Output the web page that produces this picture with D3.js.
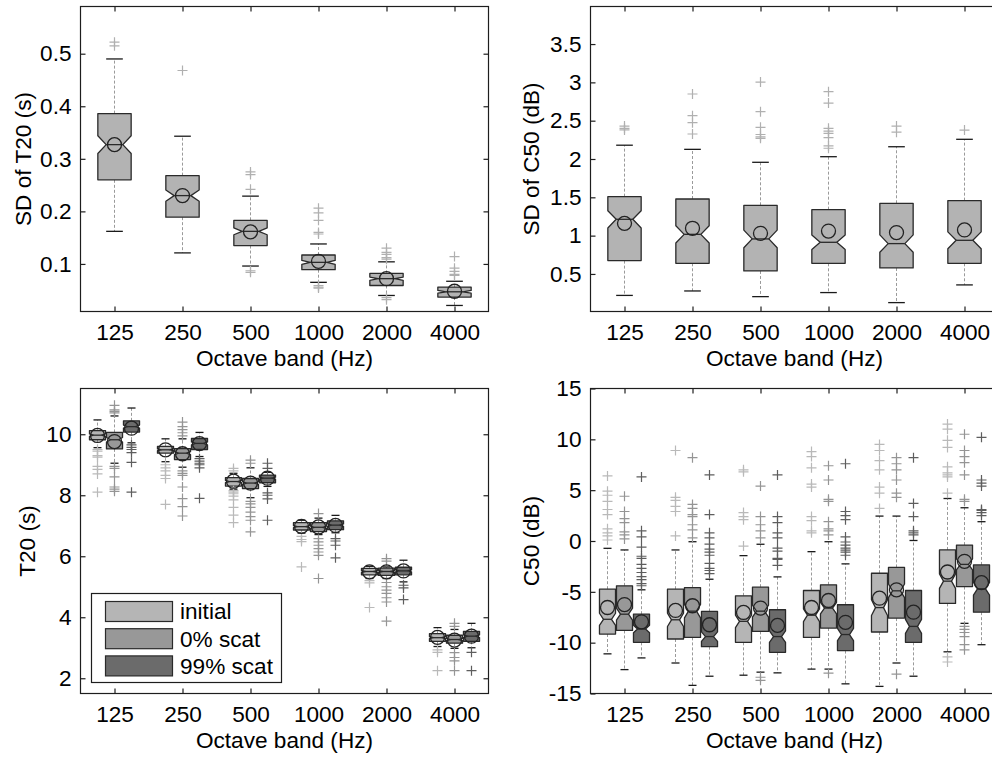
<!DOCTYPE html>
<html><head><meta charset="utf-8">
<script src="https://cdn.jsdelivr.net/npm/d3@7"></script>
<style>
body{margin:0;background:#fff}
svg{display:block}
text{font-family:Arial,"Liberation Sans",sans-serif}
</style>
</head><body>
<svg id="c" width="992" height="758"></svg>
<script>
// ---------- DATA ----------
const bands = ["125", "250", "500", "1000", "2000", "4000"];
const legendLabels = ["initial", "0% scat", "99% scat"];
const sdT20Ticks = [0.1, 0.2, 0.3, 0.4, 0.5];
const sdC50Ticks = [0.5, 1, 1.5, 2, 2.5, 3, 3.5];
const t20Ticks = [2, 4, 6, 8, 10];
const c50Ticks = [-15, -10, -5, 0, 5, 10, 15];
const nSamples = 136; // used for notch width (median ± 1.57·IQR/√n)

// box stats: [lowerWhisker, q1, median, q3, upperWhisker, mean]
const sdT20Stats = [
  [0.162, 0.260, 0.327, 0.386, 0.490, 0.327],
  [0.121, 0.189, 0.230, 0.268, 0.343, 0.230],
  [0.096, 0.135, 0.162, 0.183, 0.229, 0.161],
  [0.065, 0.089, 0.103, 0.117, 0.138, 0.105],
  [0.040, 0.059, 0.072, 0.082, 0.104, 0.072],
  [0.021, 0.037, 0.047, 0.056, 0.067, 0.048]
];
const sdT20Out = [
  [0.522, 0.515],
  [0.468],
  [0.275, 0.270, 0.242, 0.087, 0.084],
  [0.206, 0.197, 0.183, 0.160, 0.157, 0.059, 0.056, 0.054],
  [0.130, 0.122, 0.118, 0.112, 0.109, 0.036, 0.032],
  [0.114, 0.092, 0.086, 0.080, 0.078]
];

const sdC50Stats = [
  [0.220, 0.674, 1.213, 1.509, 2.180, 1.160],
  [0.278, 0.639, 1.017, 1.478, 2.126, 1.096],
  [0.204, 0.539, 0.957, 1.396, 1.957, 1.030],
  [0.257, 0.639, 0.913, 1.339, 2.030, 1.060],
  [0.126, 0.578, 0.896, 1.422, 2.160, 1.040],
  [0.357, 0.639, 0.939, 1.457, 2.257, 1.074]
];
const sdC50Out = [
  [2.43, 2.40, 2.38],
  [2.848, 2.565, 2.474, 2.326],
  [3.004, 2.617, 2.413, 2.32, 2.29, 2.27],
  [2.878, 2.73, 2.40, 2.365, 2.335, 2.278, 2.17, 2.14],
  [2.43, 2.35],
  [2.378]
];

const t20InitialStats = [
  [9.56, 9.82, 9.97, 10.12, 10.47, 9.96],
  [9.10, 9.38, 9.49, 9.60, 9.85, 9.49],
  [8.20, 8.30, 8.45, 8.58, 8.72, 8.46],
  [6.76, 6.86, 6.97, 7.10, 7.18, 6.98],
  [5.27, 5.39, 5.50, 5.60, 5.67, 5.49],
  [3.04, 3.21, 3.33, 3.46, 3.66, 3.34]
];
const t20InitialOut = [
  [9.5, 9.45, 9.3, 9.25, 8.95, 8.85, 8.7, 8.1],
  [9.0, 8.9, 8.8, 8.65, 8.55, 7.7],
  [8.88, 8.8, 8.15, 8.1, 8.05, 7.97, 7.85, 7.6, 7.35, 7.1],
  [6.65, 6.55, 6.48, 5.65],
  [5.2, 5.13, 4.32],
  [2.93, 2.85, 2.25]
];
const t20Scat0Stats = [
  [9.05, 9.52, 9.82, 10.06, 10.60, 9.76],
  [8.92, 9.17, 9.38, 9.53, 9.85, 9.36],
  [7.92, 8.22, 8.40, 8.55, 8.90, 8.40],
  [6.71, 6.81, 6.95, 7.10, 7.25, 6.96],
  [5.27, 5.37, 5.50, 5.61, 5.65, 5.49],
  [2.98, 3.15, 3.27, 3.41, 3.60, 3.25]
];
const t20Scat0Out = [
  [10.95, 10.8, 10.75, 10.7, 8.95, 8.88, 8.6, 8.27, 8.2, 8.13],
  [10.4, 10.25, 10.15, 10.05, 9.95, 8.8, 8.72, 8.65, 8.27, 7.89, 7.63, 7.32],
  [9.15, 9.05, 7.8, 7.72, 7.6, 7.45, 7.3, 7.18, 6.8],
  [7.4, 6.58, 6.47, 6.36, 6.25, 6.14, 6.03, 5.27],
  [5.92, 5.84, 5.14, 5.0, 4.89, 4.78, 4.64, 4.5, 3.87],
  [3.8, 3.7, 2.84, 2.68, 2.57, 2.25]
];
const t20Scat99Stats = [
  [9.72, 10.07, 10.25, 10.44, 10.86, 10.20],
  [9.27, 9.50, 9.70, 9.86, 10.06, 9.69],
  [8.29, 8.41, 8.56, 8.66, 8.75, 8.56],
  [6.77, 6.87, 7.02, 7.16, 7.34, 7.01],
  [5.16, 5.39, 5.52, 5.64, 5.87, 5.52],
  [3.00, 3.21, 3.38, 3.54, 3.80, 3.38]
];
const t20Scat99Out = [
  [9.65, 9.57, 9.5, 9.4, 9.08, 8.1],
  [9.2, 9.12, 9.05, 9.0, 8.9, 7.9],
  [9.05, 8.88, 8.08, 8.0, 7.88, 7.18],
  [6.58, 6.5, 6.36, 5.95],
  [5.05, 4.96, 4.58],
  [2.85, 2.25]
];

const c50InitialStats = [
  [-11.1, -9.15, -7.70, -4.74, -0.72, -6.54],
  [-12.0, -9.64, -7.75, -4.74, -0.88, -6.83],
  [-13.2, -9.97, -7.90, -5.39, -1.44, -7.03],
  [-12.6, -9.48, -7.30, -4.87, -1.05, -6.54],
  [-14.3, -8.95, -6.55, -3.17, 2.45, -5.62],
  [-10.9, -6.14, -3.95, -0.88, 4.18, -3.05]
];
const c50InitialOut = [
  [6.4, 4.9, 4.5, 3.9, 3.1, 2.6, 1.2, 0.8, 0.5, 0.1],
  [8.9, 4.3, 4.0, 3.4, 2.9, 0.5],
  [7.0, 6.8, 2.8, 2.4, 2.1, -0.5],
  [8.8, 8.3, 7.2, 5.6, 5.3, 2.4, 2.0, 1.0, 0.8],
  [9.5, 8.9, 7.9, 7.0, 5.3, 4.7, 3.2],
  [11.5, 11.0, 9.9, 9.2, 7.3, 6.7, 6.5, 6.3, 4.7, -11.4, -11.9]
];
const c50Scat0Stats = [
  [-12.65, -8.80, -7.20, -4.41, -0.88, -6.25],
  [-14.2, -9.48, -6.90, -4.58, -0.07, -6.37],
  [-12.9, -8.89, -6.90, -4.54, -0.32, -6.60],
  [-12.6, -8.56, -6.60, -4.31, -0.07, -5.85],
  [-12.0, -7.58, -4.90, -2.60, 2.45, -4.80],
  [-8.1, -4.48, -2.30, -0.40, 3.27, -2.00]
];
const c50Scat0Out = [
  [4.4, 2.9, 2.2, 1.8, 0.9, 0.6, 0.2],
  [8.2, 3.6, 3.2, 2.6, 2.4, 1.6, 1.1, 0.3],
  [5.4, 2.4, 1.6, 1.0, 0.3, -13.4, -13.7],
  [7.4, 6.0, 4.1, 3.9, 1.9, 1.2, 1.0, 0.6, -13.0],
  [8.2, 7.6, 7.0, 6.0, 4.7, 4.3, -13.1],
  [10.5, 8.9, 8.3, 7.7, 6.5, 4.1, 3.9, -8.4, -8.7, -9.0, -9.4, -10.2, -10.7]
];
const c50Scat99Stats = [
  [-11.5, -9.97, -8.66, -7.20, -4.80, -7.95],
  [-13.3, -10.39, -9.40, -6.93, -3.76, -8.24],
  [-12.97, -10.95, -9.40, -6.76, -3.53, -8.30],
  [-14.05, -10.78, -9.20, -6.27, -2.25, -8.00],
  [-13.3, -9.97, -8.40, -4.87, 0.05, -7.00],
  [-10.2, -7.00, -4.70, -2.35, 1.90, -4.10]
];
const c50Scat99Out = [
  [6.3, 1.0, 0.4, -0.6, -1.5, -1.7, -2.3, -2.7, -3.1, -3.5, -3.8, -4.2, -4.4],
  [6.5, 2.6, 0.8, 0.3, -0.3, -0.8, -1.1, -1.4, -2.2, -2.7, -2.9, -3.2],
  [6.5, 2.4, 1.8, 0.8, 0.3, -0.7, -1.0, -1.7, -1.8, -2.4],
  [7.6, 2.9, 2.5, 2.1, 0.4, -0.1, -0.4, -0.7, -0.9, -1.1, -1.4],
  [8.2, 3.7, 2.4, 1.0, 0.8, 0.6],
  [10.2, 6.0, 5.7, 5.4, 3.1, 3.0, 2.8, 2.5]
];

// ---------- STYLE ----------
const FS = 22.6;
const AX = "#1e1e1e";
const EDGE = "#2a2a2a";
const fills = {single: "#b3b3b3", initial: "#b5b5b5", scat0: "#989898", scat99: "#6b6b6b"};
const outCols = {single: "#b0b0b0", initial: "#b9b9b9", scat0: "#959595", scat99: "#5e5e5e"};

const svg = d3.select("#c");
svg.append("rect").attr("width", 992).attr("height", 758).attr("fill", "#fff");

function drawPanel(cfg) {
  const {x0, x1, y0, y1, yDomain, yTicks, yTitle, titleX, series, yFmt} = cfg;
  const g = svg.append("g");
  const x = d3.scaleLinear().domain([0.5, 6.5]).range([x0, x1]);
  const y = d3.scaleLinear().domain(yDomain).range([y1, y0]);

  series.forEach(s => {
    const hw = s.halfW;
    s.stats.forEach((st, i) => {
      const [lo, q1, med, q3, hi, mean] = st;
      const c = i + 1 + s.offset;
      const cx = x(c);
      const xl = x(c - hw), xr = x(c + hw);
      const w = (xr - xl) / 2;
      const capL = x(c - hw / 2), capR = x(c + hw / 2);
      const nh = 1.57 * (q3 - q1) / Math.sqrt(nSamples);
      g.append("line").attr("x1", cx).attr("x2", cx).attr("y1", y(q3)).attr("y2", y(hi))
        .attr("stroke", "#9a9a9a").attr("stroke-width", 1).attr("stroke-dasharray", "3,2");
      g.append("line").attr("x1", cx).attr("x2", cx).attr("y1", y(q1)).attr("y2", y(lo))
        .attr("stroke", "#9a9a9a").attr("stroke-width", 1).attr("stroke-dasharray", "3,2");
      [lo, hi].forEach(v => {
        g.append("line").attr("x1", capL).attr("x2", capR).attr("y1", y(v)).attr("y2", y(v))
          .attr("stroke", "#1a1a1a").attr("stroke-width", 1.3);
      });
      const p = d3.path();
      p.moveTo(xl, y(q3));
      p.lineTo(xr, y(q3));
      p.lineTo(xr, y(med + nh));
      p.lineTo(cx + w / 2, y(med));
      p.lineTo(xr, y(med - nh));
      p.lineTo(xr, y(q1));
      p.lineTo(xl, y(q1));
      p.lineTo(xl, y(med - nh));
      p.lineTo(cx - w / 2, y(med));
      p.lineTo(xl, y(med + nh));
      p.closePath();
      g.append("path").attr("d", p.toString()).attr("fill", s.fill)
        .attr("stroke", EDGE).attr("stroke-width", 1.3).attr("stroke-linejoin", "round");
      g.append("line").attr("x1", cx - w / 2).attr("x2", cx + w / 2).attr("y1", y(med)).attr("y2", y(med))
        .attr("stroke", EDGE).attr("stroke-width", 1.3);
      s.outs[i].forEach(v => {
        const yy = y(v);
        g.append("path").attr("d", `M${cx - 5},${yy}h10M${cx},${yy - 5}v10`)
          .attr("stroke", s.outColor).attr("stroke-width", 1.2).attr("fill", "none");
      });
      g.append("circle").attr("cx", cx).attr("cy", y(mean)).attr("r", 7)
        .attr("fill", "none").attr("stroke", "#222").attr("stroke-width", 1.3);
    });
  });

  g.append("rect").attr("x", x0).attr("y", y0).attr("width", x1 - x0).attr("height", y1 - y0)
    .attr("fill", "none").attr("stroke", AX).attr("stroke-width", 1.2);

  const styleAxis = sel => {
    sel.select(".domain").remove();
    sel.selectAll("line").attr("stroke", AX).attr("stroke-width", 1.2);
    sel.selectAll("text").attr("fill", "#000").attr("font-size", FS)
      .attr("font-family", "Arial, 'Liberation Sans', sans-serif");
  };
  const bandIdx = bands.map((b, i) => i + 1);
  g.append("g").attr("transform", `translate(0,${y1})`)
    .call(d3.axisBottom(x).tickValues(bandIdx).tickFormat((d, i) => bands[i]).tickSizeInner(-5).tickSizeOuter(0).tickPadding(12))
    .call(styleAxis);
  g.append("g").attr("transform", `translate(0,${y0})`)
    .call(d3.axisTop(x).tickValues(bandIdx).tickFormat("").tickSizeInner(-5).tickSizeOuter(0))
    .call(styleAxis);
  g.append("g").attr("transform", `translate(${x0},0)`)
    .call(d3.axisLeft(y).tickValues(yTicks).tickFormat(yFmt).tickSizeInner(-5).tickSizeOuter(0).tickPadding(9))
    .call(styleAxis);
  g.append("g").attr("transform", `translate(${x1},0)`)
    .call(d3.axisRight(y).tickValues(yTicks).tickFormat("").tickSizeInner(-5).tickSizeOuter(0))
    .call(styleAxis);

  g.append("text").attr("x", (x0 + x1) / 2).attr("y", y1 + 54).attr("text-anchor", "middle")
    .attr("font-size", FS).text("Octave band (Hz)");
  g.append("text").attr("transform", `translate(${titleX},${(y0 + y1) / 2}) rotate(-90)`)
    .attr("text-anchor", "middle").attr("font-size", FS).text(yTitle);
}

const fmt = d => String(d);

drawPanel({
  x0: 80.5, x1: 488.5, y0: 6.5, y1: 311.5, yDomain: [0.0095, 0.5898], yTicks: sdT20Ticks,
  yTitle: "SD of T20 (s)", titleX: 31, yFmt: fmt,
  series: [{stats: sdT20Stats, outs: sdT20Out, offset: 0, halfW: 0.245, fill: fills.single, outColor: outCols.single}]
});
drawPanel({
  x0: 590.5, x1: 998.5, y0: 6.5, y1: 311.5, yDomain: [0.01, 3.99], yTicks: sdC50Ticks,
  yTitle: "SD of C50 (dB)", titleX: 539, yFmt: fmt,
  series: [{stats: sdC50Stats, outs: sdC50Out, offset: 0, halfW: 0.245, fill: fills.single, outColor: outCols.single}]
});
drawPanel({
  x0: 80.5, x1: 488.5, y0: 388.5, y1: 693.5, yDomain: [1.5, 11.5], yTicks: t20Ticks,
  yTitle: "T20 (s)", titleX: 35, yFmt: fmt,
  series: [
    {stats: t20InitialStats, outs: t20InitialOut, offset: -0.25, halfW: 0.118, fill: fills.initial, outColor: outCols.initial},
    {stats: t20Scat0Stats, outs: t20Scat0Out, offset: 0, halfW: 0.118, fill: fills.scat0, outColor: outCols.scat0},
    {stats: t20Scat99Stats, outs: t20Scat99Out, offset: 0.25, halfW: 0.118, fill: fills.scat99, outColor: outCols.scat99}
  ]
});
drawPanel({
  x0: 590.5, x1: 998.5, y0: 388.5, y1: 693.5, yDomain: [-15, 15], yTicks: c50Ticks,
  yTitle: "C50 (dB)", titleX: 539, yFmt: fmt,
  series: [
    {stats: c50InitialStats, outs: c50InitialOut, offset: -0.25, halfW: 0.118, fill: fills.initial, outColor: outCols.initial},
    {stats: c50Scat0Stats, outs: c50Scat0Out, offset: 0, halfW: 0.118, fill: fills.scat0, outColor: outCols.scat0},
    {stats: c50Scat99Stats, outs: c50Scat99Out, offset: 0.25, halfW: 0.118, fill: fills.scat99, outColor: outCols.scat99}
  ]
});

const lg = svg.append("g");
lg.append("rect").attr("x", 91.5).attr("y", 593.5).attr("width", 190).attr("height", 89)
  .attr("fill", "#fff").attr("stroke", AX).attr("stroke-width", 1.2);
const legFills = [fills.initial, fills.scat0, fills.scat99];
legendLabels.forEach((lab, i) => {
  const yy = 601.5 + i * 27.2;
  lg.append("rect").attr("x", 105.5).attr("y", yy).attr("width", 67).attr("height", 20)
    .attr("fill", legFills[i]).attr("stroke", EDGE).attr("stroke-width", 1.2);
  lg.append("text").attr("x", 180).attr("y", yy + 10).attr("dy", "0.35em")
    .attr("font-size", FS).text(lab);
});
</script>
</body></html>
